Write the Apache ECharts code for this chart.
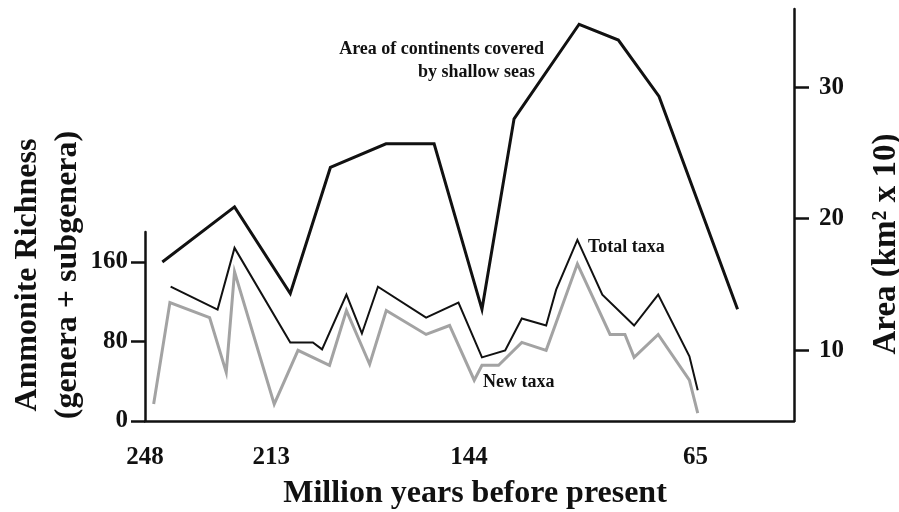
<!DOCTYPE html>
<html>
<head>
<meta charset="utf-8">
<script src="https://cdn.jsdelivr.net/npm/echarts@6/dist/echarts.min.js"></script>
<style>
  html, body { margin: 0; padding: 0; background: #fff; }
  #chart { width: 899px; height: 512px; }
</style>
</head>
<body>
<div id="chart"></div>
<script>
// Period boundaries labelled on the time axis (million years ago)
const periodTicks = [248, 213, 144, 65];

// Area of continents covered by shallow seas (km^2 x 10)
const areaAges   = [243.2, 223.2, 206.4, 192.4, 173.0, 156.2, 139.5, 128.3, 105.6, 91.9, 77.7, 50.3];
const areaValues = [16.7, 20.9, 14.3, 23.9, 25.7, 25.7, 13.1, 27.6, 34.8, 33.6, 29.3, 13.1];

// Total ammonite taxa (genera + subgenera)
const totalAges   = [240.9, 227.9, 223.2, 206.4, 198.5, 195.3, 186.8, 181.4, 175.8, 159.0, 147.7,
                     139.5, 131.4, 125.6, 117.1, 113.6, 106.2, 97.5, 86.4, 78.0, 67.1, 64.2];
const totalValues = [135, 112, 174, 79, 79, 72, 127, 88, 135, 104, 119,
                     64, 71, 103, 96, 132, 182, 127, 96, 127, 65, 31];

// Newly appearing ammonite taxa
const newAges   = [245.6, 241.1, 230.1, 225.5, 223.2, 212.0, 203.7, 192.7, 186.8, 178.7, 172.9, 159.0, 150.8,
                   142.2, 139.5, 133.7, 125.6, 117.1, 106.2, 94.8, 89.6, 86.4, 78.0, 67.1, 64.2];
const newValues = [17, 119, 104, 49, 150, 17, 71, 56, 111, 57, 111, 87, 96,
                   41, 56, 56, 79, 71, 158, 87, 87, 64, 87, 41, 8];

const richnessTicks = [0, 80, 160];
const areaTicks = [10, 20, 30];

// The Triassic is drawn on a wider scale than the Jurassic and Cretaceous.
const TRIASSIC_BASE = 213;
const TRIASSIC_STRETCH = 1.26;
const toAxis = age => age > TRIASSIC_BASE ? TRIASSIC_BASE + (age - TRIASSIC_BASE) * TRIASSIC_STRETCH : age;
const fromAxis = v => v > TRIASSIC_BASE ? TRIASSIC_BASE + (v - TRIASSIC_BASE) / TRIASSIC_STRETCH : v;
const pairs = (ages, vals) => ages.map((a, i) => [toAxis(a), vals[i]]);

const FONT = '"Liberation Serif", "Times New Roman", serif';
const INK = '#111111';
const GREY = '#a3a3a3';
const axisLine = { show: true, onZero: false, lineStyle: { color: INK, width: 2.5 } };
const labelFont = { fontFamily: FONT, fontWeight: 'bold', fontSize: 25, color: INK };

const xRange = { type: 'value', inverse: true, min: 30.6, max: toAxis(248) };

const chart = echarts.init(document.getElementById('chart'), null, { renderer: 'canvas' });
chart.setOption({
  animation: false,
  backgroundColor: '#ffffff',
  grid: [
    { left: 145, right: 105, top: 9, bottom: 91 },
    { left: 145, right: 105, top: 232, bottom: 91 }
  ],
  xAxis: [
    Object.assign({}, xRange, {
      gridIndex: 0,
      axisLine: axisLine,
      axisTick: { show: false },
      splitLine: { show: false },
      axisLabel: Object.assign({
        customValues: periodTicks.map(toAxis),
        formatter: v => String(Math.round(fromAxis(v))),
        margin: 24
      }, labelFont)
    }),
    Object.assign({}, xRange, { gridIndex: 1, show: false })
  ],
  yAxis: [
    {
      type: 'value', gridIndex: 0, position: 'right',
      min: 4.6, max: 35.96,
      axisLine: axisLine,
      axisTick: { show: true, inside: false, length: 15, customValues: areaTicks,
                  lineStyle: { color: INK, width: 2.5 } },
      axisLabel: Object.assign({ customValues: areaTicks, margin: 25 }, labelFont),
      splitLine: { show: false }
    },
    {
      type: 'value', gridIndex: 1, position: 'left',
      min: 0, max: 190, interval: 80,
      axisLine: axisLine,
      axisTick: { show: true, inside: false, length: 14, customValues: richnessTicks,
                  lineStyle: { color: INK, width: 2.5 } },
      axisLabel: Object.assign({ customValues: richnessTicks, margin: 17 }, labelFont),
      splitLine: { show: false }
    }
  ],
  series: [
    {
      name: 'Area of continents covered by shallow seas', type: 'line',
      xAxisIndex: 0, yAxisIndex: 0, symbol: 'none',
      lineStyle: { color: INK, width: 3, join: 'miter' },
      data: pairs(areaAges, areaValues)
    },
    {
      name: 'New taxa', type: 'line',
      xAxisIndex: 1, yAxisIndex: 1, symbol: 'none',
      lineStyle: { color: GREY, width: 3, join: 'miter' },
      data: pairs(newAges, newValues)
    },
    {
      name: 'Total taxa', type: 'line',
      xAxisIndex: 1, yAxisIndex: 1, symbol: 'none',
      lineStyle: { color: INK, width: 2, join: 'miter' },
      data: pairs(totalAges, totalValues)
    }
  ],
  graphic: [
    { type: 'text', x: 544, y: 49,
      style: { text: 'Area of continents covered', font: 'bold 18px ' + FONT, fill: INK,
               textAlign: 'right', textVerticalAlign: 'middle' } },
    { type: 'text', x: 535, y: 72,
      style: { text: 'by shallow seas', font: 'bold 18px ' + FONT, fill: INK,
               textAlign: 'right', textVerticalAlign: 'middle' } },
    { type: 'text', x: 588, y: 247,
      style: { text: 'Total taxa', font: 'bold 18px ' + FONT, fill: INK,
               textAlign: 'left', textVerticalAlign: 'middle' } },
    { type: 'text', x: 483, y: 382,
      style: { text: 'New taxa', font: 'bold 18px ' + FONT, fill: INK,
               textAlign: 'left', textVerticalAlign: 'middle' } },
    { type: 'text', x: 475, y: 494,
      style: { text: 'Million years before present', font: 'bold 32px ' + FONT, fill: INK,
               textAlign: 'center', textVerticalAlign: 'middle' } },
    { type: 'text', x: 48, y: 275, rotation: Math.PI / 2,
      style: { text: 'Ammonite Richness\n(genera + subgenera)', font: 'bold 32px ' + FONT,
               lineHeight: 40, fill: INK, textAlign: 'center', textVerticalAlign: 'middle' } },
    { type: 'text', x: 886, y: 244, rotation: Math.PI / 2,
      style: { text: 'Area (km\u00b2 x 10)', font: 'bold 33px ' + FONT, fill: INK,
               textAlign: 'center', textVerticalAlign: 'middle' } }
  ]
});
</script>
</body>
</html>
